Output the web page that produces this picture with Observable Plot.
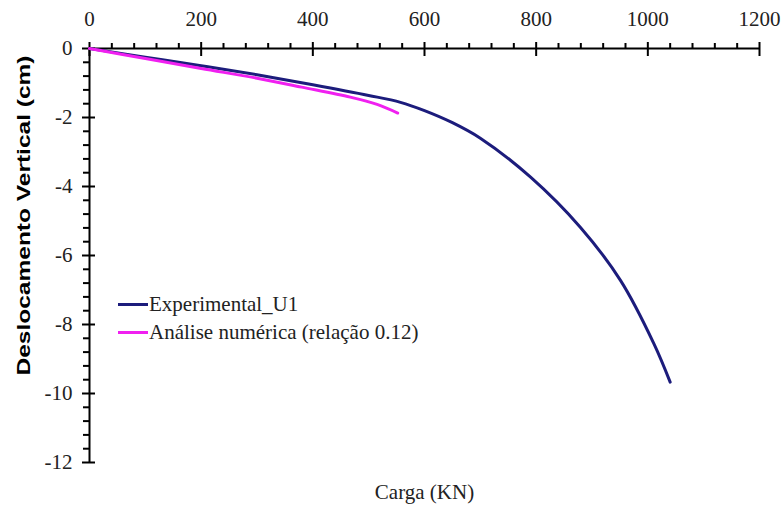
<!DOCTYPE html>
<html>
<head>
<meta charset="utf-8">
<script src="https://cdn.jsdelivr.net/npm/d3@7"></script>
<script src="https://cdn.jsdelivr.net/npm/@observablehq/plot@0.6"></script>
<style>
  body { margin: 0; background: #fff; }
  #wrap { position: relative; width: 782px; height: 505px; }
  #legend { position: absolute; left: 118px; top: 290px; font-family: 'Liberation Serif', 'Times New Roman', serif; font-size: 21px; color: #222; }
  .row { display: flex; align-items: center; height: 28.5px; white-space: nowrap; }
  .sw { display: inline-block; width: 30px; height: 3px; margin-right: 1px; }
</style>
</head>
<body>
<div id="wrap"><div id="legend"></div></div>
<script>
// Experimental_U1 : load (KN) vs vertical displacement (cm)
const expLoad = [0, 100, 200, 300, 400, 500, 557, 600, 650, 700, 790, 879, 951, 1011, 1040];
const expDisp = [0, -0.25, -0.5, -0.76, -1.05, -1.36, -1.56, -1.8, -2.15, -2.6, -3.73, -5.18, -6.72, -8.56, -9.67];
// Análise numérica (relação 0.12)
const numLoad = [0, 100, 200, 300, 380, 467, 515, 552];
const numDisp = [0, -0.29, -0.58, -0.86, -1.12, -1.41, -1.62, -1.87];

const seriesNames = ["Experimental_U1", "Análise numérica (relação 0.12)"];
const seriesColors = ["#1c1c7c", "#f020f0"];

const xTicks = [0, 200, 400, 600, 800, 1000, 1200];
const yTicks = [0, -2, -4, -6, -8, -10, -12];
const xMinor = d3.range(0, 1201, 40).filter(v => v % 200 !== 0);
const yMinor = d3.range(0, 31).filter(i => i % 5 !== 0).map(i => -i * 0.4);

const xTitle = "Carga (KN)";
const yTitle = "Deslocamento Vertical (cm)";

const W = 782, H = 505, mT = 48, mL = 89, mR = 23, mB = 43;
const frameH = H - mT - mB, frameW = W - mL - mR;
const serif = "'Liberation Serif', 'Times New Roman', serif";

const expData = expLoad.map((x, i) => ({x, y: expDisp[i]}));
const numData = numLoad.map((x, i) => ({x, y: numDisp[i]}));

const plot = Plot.plot({
  width: W, height: H,
  marginTop: mT, marginLeft: mL, marginRight: mR, marginBottom: mB,
  style: {fontFamily: serif, fontSize: "21px", color: "#222", background: "#fff"},
  x: {domain: [0, 1200]},
  y: {domain: [-12, 0]},
  marks: [
    Plot.axisX({anchor: "top", ticks: xTicks, tickSize: 0, tickPadding: 23, label: null, tickFormat: d => String(d), fontSize: 21, fontFamily: serif}),
    Plot.axisY({anchor: "left", ticks: yTicks, tickSize: 0, tickPadding: 17, label: null, tickFormat: d => String(d), fontSize: 21, fontFamily: serif}),
    Plot.ruleY([0], {stroke: "#000", strokeWidth: 2}),
    Plot.ruleX([0], {stroke: "#000", strokeWidth: 2}),
    Plot.tickX(xTicks, {x: d => d, stroke: "#000", strokeWidth: 2, insetTop: -6, insetBottom: frameH - 8}),
    Plot.tickX(xMinor, {x: d => d, stroke: "#000", strokeWidth: 2, insetTop: -5, insetBottom: frameH}),
    Plot.tickY(yTicks, {y: d => d, stroke: "#000", strokeWidth: 2, insetLeft: -7, insetRight: frameW - 6}),
    Plot.tickY(yMinor, {y: d => d, stroke: "#000", strokeWidth: 2, insetLeft: -6, insetRight: frameW}),
    Plot.line(expData, {x: "x", y: "y", stroke: seriesColors[0], strokeWidth: 3, curve: "catmull-rom"}),
    Plot.line(numData, {x: "x", y: "y", stroke: seriesColors[1], strokeWidth: 3, curve: "catmull-rom"}),
    Plot.text([xTitle], {frameAnchor: "bottom", lineAnchor: "bottom", dy: 36, fill: "#222", fontSize: 21, fontFamily: serif}),
    Plot.text([yTitle], {frameAnchor: "left", rotate: -90, textAnchor: "start", dx: -65, dy: 120, fill: "#000", fontSize: 18, fontWeight: "bold", fontFamily: "'Liberation Sans', Arial, sans-serif", className: "ytitle"})
  ]
});

document.getElementById("wrap").prepend(plot);
const yt = plot.querySelector(".ytitle text");
if (yt) { yt.setAttribute("textLength", 320); yt.setAttribute("lengthAdjust", "spacingAndGlyphs"); }

const legend = document.getElementById("legend");
seriesNames.forEach((name, i) => {
  const row = document.createElement("div");
  row.className = "row";
  const sw = document.createElement("span");
  sw.className = "sw";
  sw.style.background = seriesColors[i];
  const t = document.createElement("span");
  t.textContent = name;
  row.append(sw, t);
  legend.append(row);
});
</script>
</body>
</html>
